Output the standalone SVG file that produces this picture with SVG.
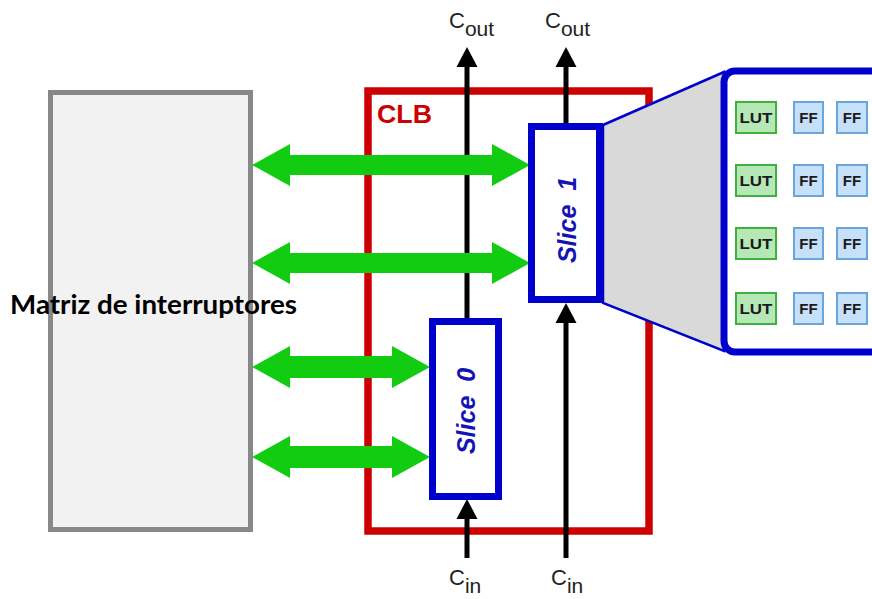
<svg xmlns="http://www.w3.org/2000/svg" width="872" height="599" viewBox="0 0 872 599">
<style>
.lbl{font-family:"Liberation Sans",Arial,sans-serif;fill:#222}
.slice{fill:#fff;stroke:#0000cc;stroke-width:7}
.stxt{font-family:"Liberation Sans",Arial,sans-serif;font-weight:bold;font-style:italic;font-size:25px;fill:#1414b4}
.wire{stroke:#000;stroke-width:5;fill:none}
.head{fill:#000}
.garrow{fill:#11cc11}
.lut{fill:#b5e8b5;stroke:#3db03d;stroke-width:2}
.ff{fill:#c6e0fa;stroke:#6aa6dc;stroke-width:2}
.cell{font-family:"Liberation Sans",Arial,sans-serif;font-weight:bold;font-size:15px;fill:#1a1a1a;text-anchor:middle}
</style>
<rect width="872" height="599" fill="#fff"/>
<g id="matriz">
<rect x="50.5" y="92.5" width="200" height="437" fill="#f2f2f2" stroke="#888" stroke-width="5"/>
<text x="10" y="314" font-family="Lato,'Liberation Sans',sans-serif" font-weight="bold" font-size="27" fill="#000" textLength="287" lengthAdjust="spacingAndGlyphs">Matriz de interruptores</text>
</g>
<g id="clb">
<rect x="368" y="91" width="281" height="440" fill="none" stroke="#cc0000" stroke-width="7.5"/>
<text x="377" y="123" font-family="'Liberation Sans',Arial,sans-serif" font-weight="bold" font-size="25" fill="#cc0000" textLength="55" lengthAdjust="spacingAndGlyphs">CLB</text>
</g>
<g id="connectors">
<line class="wire" x1="467" y1="62" x2="467" y2="320"/>
<polygon class="head" points="467,47 456.5,67 477.5,67"/>
<line class="wire" x1="566" y1="62" x2="566" y2="125"/>
<polygon class="head" points="566,47 555.5,67 576.5,67"/>
<line class="wire" x1="467" y1="512" x2="467" y2="558"/>
<polygon class="head" points="467,499 456.5,519 477.5,519"/>
<line class="wire" x1="566" y1="316" x2="566" y2="558"/>
<polygon class="head" points="566,303 555.5,323 576.5,323"/>
<polygon class="garrow" points="252,165 290,144 290,155 492,155 492,144 530,165 492,186 492,175 290,175 290,186"/>
<polygon class="garrow" points="252,263 290,242 290,253 492,253 492,242 530,263 492,284 492,273 290,273 290,284"/>
<polygon class="garrow" points="252,367 290,346 290,356 392,356 392,346 430,367 392,388 392,378 290,378 290,388"/>
<polygon class="garrow" points="252,457 290,436 290,446 392,446 392,436 430,457 392,478 392,468 290,468 290,478"/>
</g>
<g id="labels">
<text class="lbl" x="449" y="28" font-size="22">C<tspan font-size="21" dy="8">out</tspan></text>
<text class="lbl" x="545" y="28" font-size="22">C<tspan font-size="21" dy="8">out</tspan></text>
<text class="lbl" x="449" y="585" font-size="22">C<tspan font-size="21" dy="8">in</tspan></text>
<text class="lbl" x="551" y="585" font-size="22">C<tspan font-size="21" dy="8">in</tspan></text>
</g>
<g id="zoom">
<polygon points="603,125 724,72 724,351 603,303" fill="#d9d9d9" stroke="#0000cc" stroke-width="2.5"/>
<rect x="724" y="71" width="200" height="281" rx="11" fill="#fff" stroke="#0000cc" stroke-width="7"/>
</g>
<g id="slice1">
<rect class="slice" x="531.5" y="126.5" width="68" height="173"/>
<text class="stxt" transform="translate(576,220) rotate(-90)" text-anchor="middle" xml:space="preserve">Slice  1</text>
</g>
<g id="slice0">
<rect class="slice" x="432.5" y="321.5" width="66" height="175"/>
<text class="stxt" transform="translate(475,411) rotate(-90)" text-anchor="middle" xml:space="preserve">Slice  0</text>
</g>
<g id="cells">
<rect class="lut" x="736" y="102" width="40" height="31"/><text class="cell" x="756" y="123" textLength="33" lengthAdjust="spacingAndGlyphs">LUT</text>
<rect class="ff" x="794" y="102" width="29" height="31"/><text class="cell" x="808.5" y="123">FF</text>
<rect class="ff" x="837" y="102" width="30" height="31"/><text class="cell" x="852" y="123">FF</text>
<rect class="lut" x="736" y="165" width="40" height="31"/><text class="cell" x="756" y="186" textLength="33" lengthAdjust="spacingAndGlyphs">LUT</text>
<rect class="ff" x="794" y="165" width="29" height="31"/><text class="cell" x="808.5" y="186">FF</text>
<rect class="ff" x="837" y="165" width="30" height="31"/><text class="cell" x="852" y="186">FF</text>
<rect class="lut" x="736" y="228" width="40" height="31"/><text class="cell" x="756" y="249" textLength="33" lengthAdjust="spacingAndGlyphs">LUT</text>
<rect class="ff" x="794" y="228" width="29" height="31"/><text class="cell" x="808.5" y="249">FF</text>
<rect class="ff" x="837" y="228" width="30" height="31"/><text class="cell" x="852" y="249">FF</text>
<rect class="lut" x="736" y="293" width="40" height="31"/><text class="cell" x="756" y="314" textLength="33" lengthAdjust="spacingAndGlyphs">LUT</text>
<rect class="ff" x="794" y="293" width="29" height="31"/><text class="cell" x="808.5" y="314">FF</text>
<rect class="ff" x="837" y="293" width="30" height="31"/><text class="cell" x="852" y="314">FF</text>
</g>
</svg>
